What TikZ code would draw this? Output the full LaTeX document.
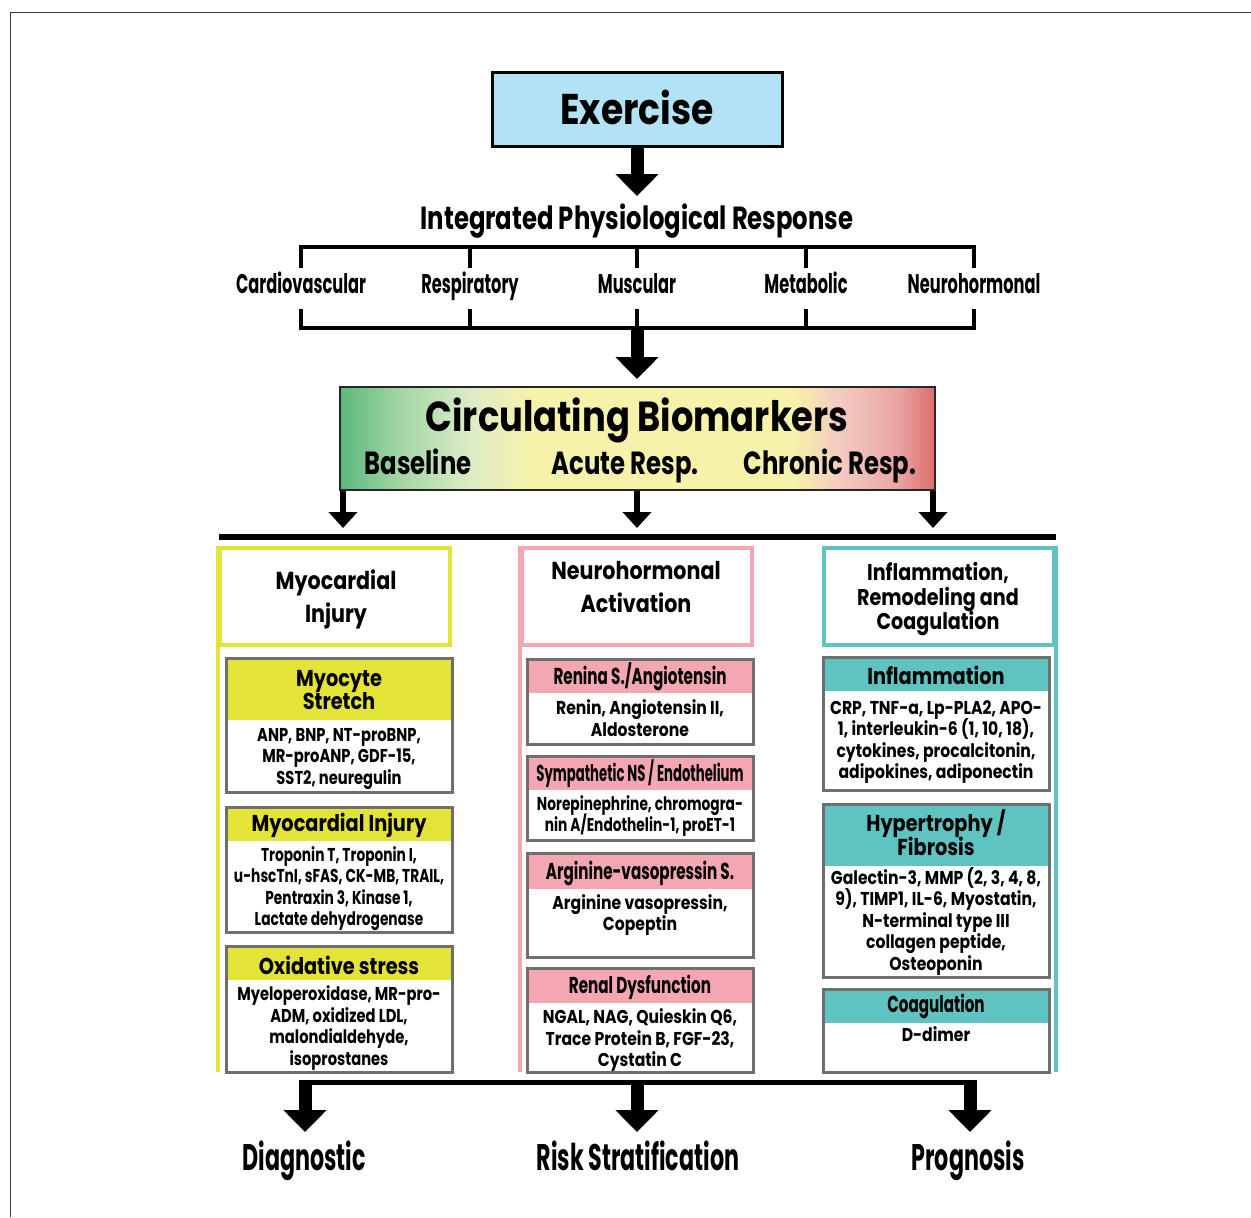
\documentclass[tikz,border=0pt]{standalone}
\usepackage{fontspec}
\setmainfont{Poppins}
\newfontfamily\fb{Poppins}[FakeStretch=0.84]
\newfontfamily\fbm{Poppins}[FakeStretch=0.79]
\newfontfamily\fbn{Poppins}[FakeStretch=0.74]
\newfontfamily\fm{Poppins}[FakeStretch=0.76]
\newfontfamily\fc{Poppins}[FakeStretch=0.66]
\newfontfamily\fcs{Poppins}[FakeStretch=0.60]
\newfontfamily\fcc{Poppins}[FakeStretch=0.575]
\usetikzlibrary{arrows.meta}
\newcommand\fsz[2]{\fontsize{#1}{#2}\selectfont\lineskiplimit=-20pt\lineskip=0pt}

\definecolor{exblue}{HTML}{B2E3F4}
\definecolor{myoY}{HTML}{E4E338}
\definecolor{nhP}{HTML}{F4A7B3}
\definecolor{infT}{HTML}{5EC3C1}
\definecolor{boxgray}{HTML}{6F6F6F}
\definecolor{framegray}{HTML}{3A3A3A}
\definecolor{g0}{HTML}{5CB97B}
\definecolor{g1}{HTML}{A3D5A5}
\definecolor{g2}{HTML}{DDECC6}
\definecolor{y0}{HTML}{F7F2AA}
\definecolor{p0}{HTML}{F3CBC2}
\definecolor{p1}{HTML}{EAA3A2}
\definecolor{r0}{HTML}{DC6C6C}

% green -> yellow -> red band for the biomarker box
\pgfdeclarehorizontalshading{biograd}{100bp}{color(0bp)=(g0); color(25bp)=(g0); color(30bp)=(g1); color(36bp)=(g2); color(41bp)=(y0); color(63bp)=(y0); color(67bp)=(p0); color(72bp)=(p1); color(75bp)=(r0); color(100bp)=(r0)}

\tikzset{
  exbox/.style={draw=black, line width=1.5pt, fill=exblue, minimum width=145pt, minimum height=37pt, inner sep=0pt},
  bigarrow/.style={line width=6.5pt, -{Triangle[width=21pt,length=11pt]}},
  medarrow/.style={line width=3pt, -{Triangle[width=14pt,length=8pt]}},
  brk/.style={line width=2pt, line cap=rect},
  sysl/.style={font=\fcs\bfseries\fsz{13.5}{16}, inner sep=0pt, minimum height=22.5pt, text height=9.5pt, text depth=5pt},
  biobox/.style={shading=biograd, draw=black!85, line width=1pt, minimum width=297.5pt, minimum height=51.5pt, inner sep=0pt},
  colhead/.style={draw=#1, line width=2pt, fill=white, minimum width=115pt, minimum height=48.5pt, inner sep=0pt},
  colline/.style={draw=#1, line width=2pt},
  coltext/.style={font=\fb\bfseries\fsz{12.3}{16.5}, align=center, inner sep=0pt},
  subbox/.style n args={3}{draw=boxgray, line width=1.5pt, fill=white, inner sep=0pt, minimum width=113pt, minimum height=#2,
    path picture={\fill[#1] (path picture bounding box.north west) rectangle ([yshift=-#3]path picture bounding box.north east);}},
  subhd/.style={font=\fb\bfseries\fsz{11.5}{11.9}, align=center, inner sep=0pt},
  subhc/.style={font=\fc\bfseries\fsz{11.5}{11.5}, align=center, inner sep=0pt},
  body/.style={font=\fb\bfseries\fsz{9.3}{10.75}, align=center, inner sep=0pt},
  outl/.style={font=\fcs\bfseries\fsz{18.5}{20}, inner sep=0pt},
}

\begin{document}
\begin{tikzpicture}[x=0.5pt,y=-0.5pt]
\useasboundingbox (0,0) rectangle (1251,1217);
\fill[white] (0,0) rectangle (1251,1217);
\draw[framegray, line width=0.8pt] (1251,12.5) -- (10.5,12.5) -- (10.5,1217);

% ---- Exercise ----
\node[exbox] (ex) at (637,109) {};
\node[font=\fb\bfseries\fsz{21.5}{26}, inner sep=0pt] (ext) at (637,107) {Exercise};
\coordinate (t1) at (637,196);
\draw[bigarrow] (ex.south) -- (t1);

\node[font=\fm\bfseries\fsz{16}{18}, anchor=base, inner sep=0pt] (ipr) at (637,229) {Integrated Physiological Response};

% ---- the five systems, bracketed ----
\foreach \n/\x/\t in {c1/301/Cardiovascular, c2/470/Respiratory, c3/637/Muscular, c4/806/Metabolic, c5/974/Neurohormonal}
  \node[sysl] (\n) at (\x,288.5) {\t};
\coordinate (topbar) at (637,247);
\coordinate (botbar) at (637,328);
\draw[brk] (c1.north |- topbar) -- (c5.north |- topbar);
\draw[brk] (c1.south |- botbar) -- (c5.south |- botbar);
\foreach \n in {c1,c2,c3,c4,c5}{
  \draw[brk] (\n.north) -- (\n.north |- topbar);
  \draw[brk] (\n.south) -- (\n.south |- botbar);
}
\coordinate (t2) at (637,379);
\draw[bigarrow] (botbar) -- (t2);

% ---- circulating biomarkers ----
\node[biobox] (bio) at (637.5,438.5) {};
\node[font=\fb\bfseries\fsz{21}{24}, anchor=base, inner sep=0pt] (biot) at (637,431) {Circulating Biomarkers};
\node[font=\fm\bfseries\fsz{16}{18}, anchor=base, inner sep=0pt] (bl) at (418,474) {Baseline};
\node[font=\fm\bfseries\fsz{16}{18}, anchor=base, inner sep=0pt] (ac) at (625,474) {Acute Resp.};
\node[font=\fm\bfseries\fsz{16}{18}, anchor=base, inner sep=0pt] (cr) at (830,474) {Chronic Resp.};
\coordinate (a1) at (343,528);
\coordinate (a2) at (637,528);
\coordinate (a3) at (933,528);
\foreach \a in {a1,a2,a3} \draw[medarrow] (bio.south -| \a) -- (\a);

% ---- divider ----
\coordinate (dl) at (219,537);
\coordinate (dr) at (1056,537);
\draw[line width=3pt] (dl) -- (dr);

% ---- column headers ----
\coordinate (colbot) at (0,1072);
\node[colhead=myoY] (h1) at (335,596.5) {};
\node[colhead=nhP] (h2) at (637,596.5) {};
\node[colhead=infT] (h3) at (939,596.5) {};
\draw[colline=myoY] (h1.north west) -- (h1.north west |- colbot);
\draw[colline=nhP] (h2.north west) -- (h2.north west |- colbot);
\draw[colline=infT] (h3.north east) -- (h3.north east |- colbot);
\node[coltext] (h1t) at (336,599) {Myocardial\\Injury};
\node[coltext] (h2t) at (636,587) {Neurohormonal\\Activation};
\node[coltext, font=\fb\bfseries\fsz{11.4}{12.25}] (h3t) at (938,599) {Inflammation,\\Remodeling and\\Coagulation};

% ---- myocardial injury column ----
\node[subbox={myoY}{67pt}{31pt}] (m1) at (339,725) {};
\node[subhd] (m1h) at (339,690) {Myocyte\\Stretch};
\node[body, font=\fbm\bfseries\fsz{9.3}{10.75}] (m1b) at (339,759) {ANP, BNP, NT-proBNP,\\MR-proANP, GDF-15,\\SST2, neuregulin};

\node[subbox={myoY}{62.5pt}{17pt}] (m2) at (339,869.5) {};
\node[subhd] (m2h) at (339,825) {Myocardial Injury};
\node[body, font=\fbn\bfseries\fsz{9.3}{10.75}] (m2b) at (339,888.5) {Troponin T, Troponin I,\\u-hscTnI, sFAS, CK-MB, TRAIL,\\Pentraxin 3, Kinase 1,\\Lactate dehydrogenase};

\node[subbox={myoY}{63pt}{17pt}] (m3) at (339,1009) {};
\node[subhd] (m3h) at (339,965) {Oxidative stress};
\node[body, font=\fbm\bfseries\fsz{9.3}{10.75}] (m3b) at (339,1028) {Myeloperoxidase, MR-pro-\\ADM, oxidized LDL,\\malondialdehyde,\\isoprostanes};

% ---- neurohormonal column ----
\node[subbox={nhP}{42.5pt}{17pt}] (n1) at (640,701.5) {};
\node[subhc] (n1h) at (640,677) {Renina S./Angiotensin};
\node[body] (n1b) at (640,718) {Renin, Angiotensin II,\\Aldosterone};

\node[subbox={nhP}{42pt}{17pt}] (n2) at (640,798) {};
\node[subhc, font=\fcc\bfseries\fsz{11.5}{11.5}] (n2h) at (640,774) {Sympathetic NS / Endothelium};
\node[body, font=\fbn\bfseries\fsz{9.3}{10.75}] (n2b) at (640,816) {Norepinephrine, chromogra-\\nin A/Endothelin-1, proET-1};

\node[subbox={nhP}{52pt}{18pt}] (n3) at (640,905) {};
\node[subhc] (n3h) at (640,873) {Arginine-vasopressin S.};
\node[body] (n3b) at (640,915) {Arginine vasopressin,\\Copeptin};

\node[subbox={nhP}{52pt}{17.5pt}] (n4) at (640,1020) {};
\node[subhc] (n4h) at (640,987) {Renal Dysfunction};
\node[body] (n4b) at (640,1040) {NGAL, NAG, Quieskin Q6,\\Trace Protein B, FGF-23,\\Cystatin C};

% ---- inflammation column ----
\node[subbox={infT}{66.5pt}{17pt}] (i1) at (936,723.5) {};
\node[subhd] (i1h) at (936,675) {Inflammation};
\node[body] (i1b) at (936,742) {CRP, TNF-a, Lp-PLA2, APO-\\1, interleukin-6 (1, 10, 18),\\cytokines, procalcitonin,\\adipokines, adiponectin};

\node[subbox={infT}{86.5pt}{31pt}] (i2) at (936,890.5) {};
\node[subhd] (i2h) at (936,833) {Hypertrophy /\\Fibrosis};
\node[body] (i2b) at (936,921) {Galectin-3, MMP (2, 3, 4, 8,\\9), TIMP1, IL-6, Myostatin,\\N-terminal type III\\collagen peptide,\\Osteoponin};

\node[subbox={infT}{41.5pt}{17pt}] (i3) at (936,1030.5) {};
\node[subhc] (i3h) at (936,1006) {Coagulation};
\node[body] (i3b) at (936,1034) {D-dimer};

% ---- outcomes ----
\coordinate (ol) at (299,1082);
\coordinate (or) at (976,1082);
\draw[line width=2.5pt] (ol) -- (or);
\coordinate (o1s) at (305,1080);
\coordinate (o2s) at (637,1080);
\coordinate (o3s) at (970,1080);
\coordinate (o1e) at (305,1132);
\coordinate (o2e) at (637,1132);
\coordinate (o3e) at (970,1132);
\draw[bigarrow] (o1s) -- (o1e);
\draw[bigarrow] (o2s) -- (o2e);
\draw[bigarrow] (o3s) -- (o3e);
\node[outl, anchor=base] (dg) at (304,1170) {Diagnostic};
\node[outl, anchor=base] (rs) at (638,1170) {Risk Stratification};
\node[outl, anchor=base] (pg) at (968,1170) {Prognosis};
\end{tikzpicture}
\end{document}
